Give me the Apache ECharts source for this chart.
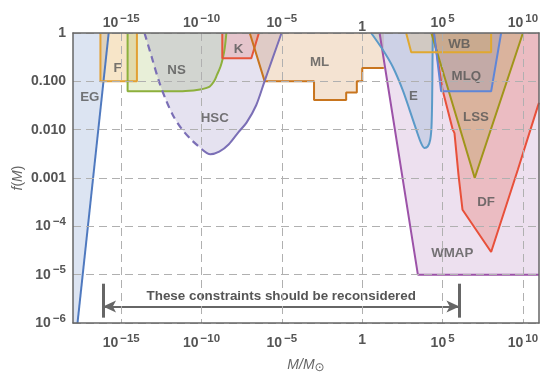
<!DOCTYPE html>
<html><head><meta charset="utf-8">
<script src="https://cdn.jsdelivr.net/npm/echarts@6/dist/echarts.min.js"></script>
<style>html,body{margin:0;padding:0;background:#fff}#c{width:550px;height:378px}</style>
</head><body><div id="c"></div>
<script>
// ---- tick values ----
const xTicks = [1e-15, 1e-10, 1e-5, 1, 1e5, 1e10];
const yTicks = [1e-6, 1e-5, 1e-4, 1e-3, 1e-2, 1e-1, 1];

// ---- constraint boundaries [M/Msun, f(M)] (region lies above each boundary) ----
const egBoundary = [[1e-18, 1.35e-7], [1.66e-16, 1]];
const fBoundary = [[5.1e-17, 1], [5.1e-17, 0.1], [9.5e-15, 0.1], [9.5e-15, 1]];
const nsBoundary = [[2.5e-15, 1], [2.5e-15, 0.062], [1e-12, 0.062], [1e-11, 0.063], [8e-11, 0.068], [3.2e-10, 0.078], [6e-10, 0.1], [9.1e-10, 0.136], [1.5e-9, 0.2], [2.1e-9, 0.3], [2.8e-9, 0.5], [3.5e-9, 1]];
const hscDashed = [[2.82e-14, 1], [7.94e-14, 0.316], [2.24e-13, 0.1], [6.31e-13, 0.04], [1.78e-12, 0.019], [6.31e-12, 0.01], [2.51e-11, 0.006], [1e-10, 0.004]];
const hscSolid = [[1e-10, 0.004], [3.55e-10, 0.0031], [1.26e-9, 0.0035], [5.01e-9, 0.005], [2e-8, 0.0089], [6.31e-8, 0.014], [2.51e-7, 0.032], [8.3e-7, 0.1], [2.8e-6, 0.316], [9.5e-6, 1]];
const kBoundary = [[1.95e-9, 1], [1.95e-9, 0.3], [1.25e-7, 0.3], [3.7e-7, 1]];
const mlBoundary = [[1e-7, 1], [8.5e-7, 0.1], [1e-3, 0.1], [1e-3, 0.041], [0.1, 0.041], [0.1, 0.059], [0.46, 0.059], [0.46, 0.1], [1, 0.1], [1, 0.188], [22, 0.188]];
const wmapBoundary = [[12, 1], [2900, 1e-5], [1e11, 1e-5]];
const eBoundary = [[3.6, 1], [19, 0.45], [79, 0.2], [331, 0.066], [871, 0.026], [2290, 0.01], [4680, 0.0052], [7410, 0.0042], [12000, 0.0045], [17000, 0.0062], [20400, 0.0115], [22400, 0.042], [23400, 0.2], [24500, 1]];
const dfBoundary = [[2.7e4, 1], [1.0e5, 0.066], [4.3e5, 0.01], [5.5e5, 0.0085], [9.8e5, 1.15e-3], [1.74e6, 2.2e-4], [1.05e8, 2.95e-5], [4.8e9, 1.48e-3], [8.3e10, 0.03], [1e11, 0.036]];
const lssBoundary = [[2e4, 1], [1e7, 0.001], [1e10, 1]];
const mlqBoundary = [[2.95e4, 1], [8.1e4, 0.062], [1.05e8, 0.062], [4.4e8, 1]];
const wbBoundary = [[540, 1], [1120, 0.4], [1.05e8, 0.4], [1.05e8, 1]];

// ---- region label anchors ----
const regionNames = ['EG', 'F', 'NS', 'HSC', 'K', 'ML', 'E', 'WB', 'MLQ', 'LSS', 'DF', 'WMAP'];
const regionLabelX = [1.1e-17, 6.0e-16, 2.8e-12, 6.6e-10, 2.0e-8, 2.2e-3, 1550, 1.1e6, 3.0e6, 1.2e7, 5.1e7, 4.0e5];
const regionLabelY = [0.046, 0.19, 0.17, 0.017, 0.47, 0.25, 0.048, 0.58, 0.126, 0.018, 3.2e-4, 2.75e-5];

// ---- annotation ----
const noteText = 'These constraints should be reconsidered';
const noteSpan = [7.4e-17, 1.12e6];
const noteLevel = 2.19e-6;
const noteBar = [1.29e-6, 6.5e-6];

const FONT = '"Liberation Sans", Arial, sans-serif';
const TXT = '#555555';

function supLabel(e) { return '{b|10}{s|' + (e < 0 ? '\u2212' + (-e) : e) + '}'; }
function xFmt(v) { const e = Math.round(Math.log10(v)); return e === 0 ? '{b|1}' : supLabel(e); }
const yFixed = { '0': '1', '-1': '0.100', '-2': '0.010', '-3': '0.001' };
function yFmt(v) { const e = Math.round(Math.log10(v)); return yFixed[String(e)] !== undefined ? '{b|' + yFixed[String(e)] + '}' : supLabel(e); }
const rich = {
  b: { fontSize: 14, fontWeight: 'bold', color: TXT, fontFamily: FONT },
  s: { fontSize: 11.5, fontWeight: 'bold', color: TXT, fontFamily: FONT, padding: [0, 0, 9, 2] }
};

const regions = [
  { name: 'EG', data: egBoundary, color: '#4f79bf', op: 0.2 },
  { name: 'F', data: fBoundary, color: '#e2a033', op: 0.27 },
  { name: 'NS', data: nsBoundary, color: '#8db03c', op: 0.2, smooth: 0.3 },
  { name: 'HSC', data: hscDashed.concat(hscSolid.slice(1)), color: '#7b6fb6', op: 0.2, smooth: 0.3, noLine: true },
  { name: 'K', data: kBoundary, color: '#e6553a', op: 0.2 },
  { name: 'ML', data: mlBoundary, color: '#c8751e', op: 0.2 },
  { name: 'WMAP', data: wmapBoundary, color: '#9c52a8', op: 0.18 },
  { name: 'E', data: eBoundary, color: '#5b9ac8', op: 0.22, smooth: 0.3 },
  { name: 'DF', data: dfBoundary, color: '#e8503a', op: 0.25 },
  { name: 'LSS', data: lssBoundary, color: '#a0951a', op: 0.22 },
  { name: 'MLQ', data: mlqBoundary, color: '#5f86d8', op: 0.18 },
  { name: 'WB', data: wbBoundary, color: '#e0a830', op: 0.2 }
];

const series = [];
regions.forEach(r => {
  series.push({
    type: 'line', name: r.name + ' area', data: r.data, showSymbol: false, symbol: 'none',
    smooth: r.smooth || false, z: 2, silent: true,
    lineStyle: { width: 0, opacity: 0 },
    areaStyle: { origin: 'end', color: r.color, opacity: r.op }
  });
});
regions.forEach(r => {
  if (r.noLine) return;
  series.push({
    type: 'line', name: r.name, data: r.data, symbol: 'none', smooth: r.smooth || false, z: 3, silent: true,
    lineStyle: { width: 2, color: r.color }
  });
});
series.push({
  type: 'line', name: 'HSC dashed', data: hscDashed, symbol: 'none', smooth: 0.3, z: 3, silent: true,
  lineStyle: { width: 2.2, color: '#7b6fb6', type: [7, 5] }
});
series.push({
  type: 'line', name: 'HSC', data: hscSolid, symbol: 'none', smooth: 0.3, z: 3, silent: true,
  lineStyle: { width: 2, color: '#7b6fb6' }
});
series.push({
  type: 'scatter', name: 'labels', z: 5, silent: true, symbolSize: 0,
  data: regionNames.map((n, i) => ({ name: n, value: [regionLabelX[i], regionLabelY[i]] })),
  label: { show: true, position: 'inside', formatter: '{b}', fontFamily: FONT, fontWeight: 'bold', fontSize: 13.3, color: TXT }
});
series.push({
  type: 'line', name: 'note', data: [], z: 6, silent: true,
  markLine: {
    silent: true, animation: false,
    data: [
      [{ coord: [noteSpan[0], noteLevel], symbol: 'arrow', symbolSize: [9, 13] },
       { coord: [noteSpan[1], noteLevel], symbol: 'arrow', symbolSize: [9, 13],
         lineStyle: { color: '#666', width: 2, type: 'solid' },
         label: { show: true, position: 'insideMiddleTop', formatter: noteText, fontFamily: FONT, fontWeight: 'bold', fontSize: 13.4, color: TXT, distance: 4 } }],
      [{ coord: [noteSpan[0], noteBar[0]], symbol: 'none' },
       { coord: [noteSpan[0], noteBar[1]], symbol: 'none', lineStyle: { color: '#666', width: 3, type: 'solid' }, label: { show: false } }],
      [{ coord: [noteSpan[1], noteBar[0]], symbol: 'none' },
       { coord: [noteSpan[1], noteBar[1]], symbol: 'none', lineStyle: { color: '#666', width: 3, type: 'solid' }, label: { show: false } }]
    ]
  }
});

const gridLine = { show: true, lineStyle: { color: '#b0b0b0', width: 1, type: [8, 5] } };
const chart = echarts.init(document.getElementById('c'), null, { renderer: 'canvas' });
chart.setOption({
  animation: false,
  backgroundColor: '#fff',
  grid: { left: 73, right: 11, top: 33, bottom: 55, containLabel: false, outerBoundsMode: 'none' },
  xAxis: [
    { type: 'log', logBase: 10, min: 1e-18, max: 1e11, position: 'bottom', z: 10,
      name: '{i|M/M}{o|\u2299}', nameLocation: 'middle', nameGap: 33,
      nameTextStyle: { rich: { i: { fontFamily: FONT, fontStyle: 'italic', fontSize: 14, color: '#666' }, o: { fontFamily: '"DejaVu Sans", sans-serif', fontSize: 12, color: '#666', padding: [6, 0, 0, 0] } } },
      axisLine: { show: true, onZero: false, lineStyle: { color: '#666', width: 1.5 } },
      axisTick: { show: false, customValues: xTicks },
      axisLabel: { customValues: xTicks, formatter: xFmt, rich: rich, margin: 10 },
      splitLine: gridLine },
    { type: 'log', logBase: 10, min: 1e-18, max: 1e11, position: 'top', z: 10,
      axisLine: { show: true, onZero: false, lineStyle: { color: '#666', width: 1.5 } },
      axisTick: { show: false, customValues: xTicks },
      axisLabel: { customValues: xTicks, formatter: xFmt, rich: rich, margin: -1 },
      splitLine: { show: false } }
  ],
  yAxis: [
    { type: 'log', logBase: 10, min: 1e-6, max: 1, position: 'left', z: 10,
      name: '{i|f}{r|(}{i|M}{r|)}', nameLocation: 'middle', nameGap: 48, nameRotate: 90, nameMoveOverlap: false,
      nameTextStyle: { rich: { i: { fontFamily: FONT, fontStyle: 'italic', fontSize: 14, color: '#666' }, r: { fontFamily: FONT, fontSize: 14, color: '#666' } } },
      axisLine: { show: true, onZero: false, lineStyle: { color: '#666', width: 1.5 } },
      axisTick: { show: false, customValues: yTicks },
      axisLabel: { customValues: yTicks, formatter: yFmt, rich: rich, margin: 7 },
      splitLine: gridLine },
    { type: 'log', logBase: 10, min: 1e-6, max: 1, position: 'right', z: 10,
      axisLine: { show: true, onZero: false, lineStyle: { color: '#666', width: 1.5 } },
      axisTick: { show: false }, axisLabel: { show: false }, splitLine: { show: false } }
  ],
  series: series
});
</script></body></html>
